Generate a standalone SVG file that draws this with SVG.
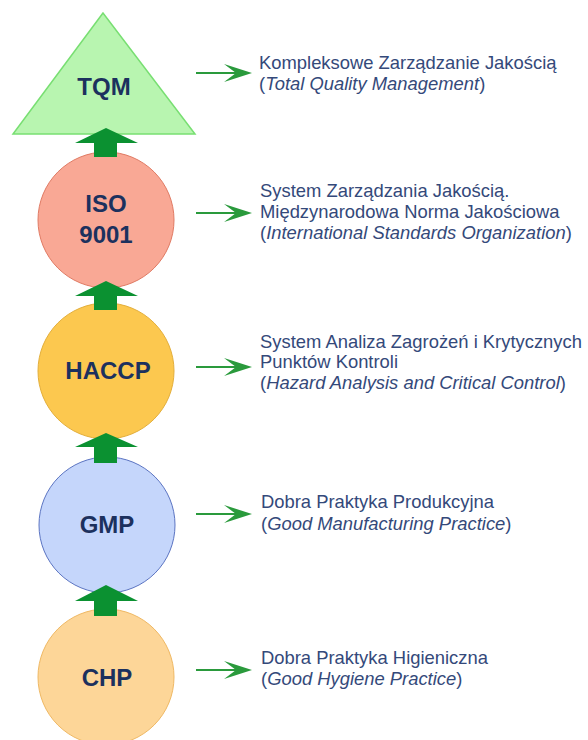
<svg xmlns="http://www.w3.org/2000/svg" width="588" height="740" viewBox="0 0 588 740">
<defs>
<style>
.node-label{font-family:"Liberation Sans",Arial,sans-serif;font-weight:bold;font-size:24px;fill:#1c315e;text-anchor:middle}
.desc{font-family:"Liberation Sans",Arial,sans-serif;font-size:18.4px;fill:#34497a}
.it{font-style:italic}
.up{fill:#0b9131}
.side{stroke:#2a9a3c;stroke-width:2;fill:none}
.sidehead{fill:#2a9a3c}
</style>
</defs>
<rect width="588" height="740" fill="#ffffff"/>
<g id="node-tqm">
<polygon points="103,13 13,134 195,134" fill="#b8f5b0" stroke="#78df72" stroke-width="1.5"/>
<text class="node-label" x="104" y="95">TQM</text>
</g>
<g id="node-iso">
<circle cx="106" cy="220" r="68" fill="#f9a895" stroke="#e07a63" stroke-width="1"/>
<text class="node-label" x="106" y="212">ISO</text>
<text class="node-label" x="106" y="243">9001</text>
</g>
<g id="node-haccp">
<circle cx="106" cy="371" r="68" fill="#fcc84f" stroke="#e3ae3a" stroke-width="1"/>
<text class="node-label" x="108" y="379">HACCP</text>
</g>
<g id="node-gmp">
<circle cx="107" cy="525" r="68" fill="#c5d6fb" stroke="#5b74c2" stroke-width="1"/>
<text class="node-label" x="107" y="533">GMP</text>
</g>
<g id="node-chp">
<circle cx="106" cy="677" r="68" fill="#fdd698" stroke="#efb863" stroke-width="1"/>
<text class="node-label" x="107" y="686">CHP</text>
</g>
<g id="connectors">
<path class="up" d="M106,128 L138,143 L117,143 L117,157 L94,157 L94,143 L75,143 Z"/>
<path class="up" d="M106,281 L138,296 L117,296 L117,310 L94,310 L94,296 L75,296 Z"/>
<path class="up" d="M106,433 L138,447 L117,447 L117,463 L94,463 L94,447 L75,447 Z"/>
<path class="up" d="M106,585 L138,601 L117,601 L117,616 L94,616 L94,601 L75,601 Z"/>
<line class="side" x1="196" y1="73" x2="240" y2="73"/>
<path class="sidehead" d="M252,73 L224,64 L236,73 L224,82 Z"/>
<line class="side" x1="196" y1="213" x2="240" y2="213"/>
<path class="sidehead" d="M252,213 L224,204 L236,213 L224,222 Z"/>
<line class="side" x1="196" y1="367" x2="240" y2="367"/>
<path class="sidehead" d="M252,367 L224,358 L236,367 L224,376 Z"/>
<line class="side" x1="196" y1="514" x2="240" y2="514"/>
<path class="sidehead" d="M252,514 L224,505 L236,514 L224,523 Z"/>
<line class="side" x1="196" y1="670" x2="240" y2="670"/>
<path class="sidehead" d="M252,670 L224,661 L236,670 L224,679 Z"/>
</g>
<g id="desc-tqm">
<text class="desc" x="259" y="69">Kompleksowe Zarządzanie Jakością</text>
<text class="desc" x="259" y="90">(<tspan class="it">Total Quality Management</tspan>)</text>
</g>
<g id="desc-iso">
<text class="desc" x="260" y="197">System Zarządzania Jakością.</text>
<text class="desc" x="260" y="218">Międzynarodowa Norma Jakościowa</text>
<text class="desc" x="260" y="239">(<tspan class="it">International Standards Organization</tspan>)</text>
</g>
<g id="desc-haccp">
<text class="desc" x="260" y="348">System Analiza Zagrożeń i Krytycznych</text>
<text class="desc" x="260" y="368">Punktów Kontroli</text>
<text class="desc" x="260" y="389">(<tspan class="it">Hazard Analysis and Critical Control</tspan>)</text>
</g>
<g id="desc-gmp">
<text class="desc" x="261" y="508">Dobra Praktyka Produkcyjna</text>
<text class="desc" x="261" y="530">(<tspan class="it">Good Manufacturing Practice</tspan>)</text>
</g>
<g id="desc-chp">
<text class="desc" x="261" y="664">Dobra Praktyka Higieniczna</text>
<text class="desc" x="261" y="685">(<tspan class="it">Good Hygiene Practice</tspan>)</text>
</g>
</svg>
